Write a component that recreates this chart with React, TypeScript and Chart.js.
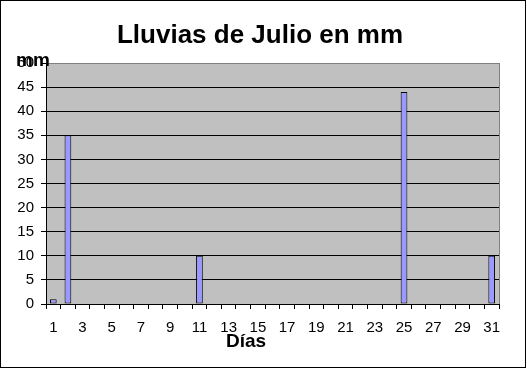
import React, { useEffect, useRef } from 'react';
import { Chart, registerables } from 'chart.js';

Chart.register(...registerables);

const TITLE = 'Lluvias de Julio en mm';
const Y_TITLE = 'mm';
const X_TITLE = 'Días';

const days = [
  '1', '2', '3', '4', '5', '6', '7', '8', '9', '10',
  '11', '12', '13', '14', '15', '16', '17', '18', '19', '20',
  '21', '22', '23', '24', '25', '26', '27', '28', '29', '30', '31',
];

const rainfall = [
  1, 35, 0, 0, 0, 0, 0, 0, 0, 0,
  10, 0, 0, 0, 0, 0, 0, 0, 0, 0,
  0, 0, 0, 0, 44, 0, 0, 0, 0, 0, 10,
];

const Y_MIN = 0;
const Y_MAX = 50;
const Y_STEP = 5;

const FONT = '"Liberation Sans", Arial, sans-serif';

const decorPlugin = {
  id: 'decor',
  beforeDraw(chart: any) {
    const { ctx, chartArea, width, height } = chart;
    ctx.save();
    ctx.fillStyle = '#ffffff';
    ctx.fillRect(0, 0, width, height);
    ctx.fillStyle = '#C0C0C0';
    ctx.fillRect(chartArea.left, chartArea.top, chartArea.right - chartArea.left, chartArea.bottom - chartArea.top);
    ctx.restore();
  },
  afterDraw(chart: any) {
    const { ctx, chartArea } = chart;
    ctx.save();
    ctx.strokeStyle = '#808080';
    ctx.lineWidth = 1;
    ctx.beginPath();
    ctx.moveTo(Math.round(chartArea.right) + 0.5, chartArea.top);
    ctx.lineTo(Math.round(chartArea.right) + 0.5, chartArea.bottom);
    ctx.stroke();
    ctx.strokeStyle = '#000000';
    ctx.strokeRect(0.5, 0.5, 525, 367);
    ctx.fillStyle = '#000000';
    ctx.textAlign = 'center';
    ctx.textBaseline = 'middle';
    ctx.font = `bold 26px ${FONT}`;
    ctx.fillText(TITLE, 260, 36);
    ctx.font = `bold 19px ${FONT}`;
    ctx.fillText(Y_TITLE, 33, 61);
    ctx.fillText(X_TITLE, 246, 342);
    ctx.restore();
  },
};

export default function App() {
  const ref = useRef<HTMLCanvasElement | null>(null);

  useEffect(() => {
    if (!ref.current) return;
    const chart = new Chart(ref.current, {
      type: 'bar',
      data: {
        labels: days,
        datasets: [
          {
            data: rainfall,
            backgroundColor: '#9999FF',
            borderColor: '#000000',
            borderWidth: 1,
            borderSkipped: false,
            barPercentage: 0.46,
            categoryPercentage: 1,
          },
        ],
      },
      options: {
        responsive: false,
        animation: false,
        devicePixelRatio: 1,
        layout: { padding: { left: 0, top: 63, right: 28, bottom: 0 } },
        plugins: {
          legend: { display: false },
          title: { display: false },
          tooltip: { enabled: false },
        },
        scales: {
          x: {
            offset: true,
            grid: {
              offset: true,
              drawOnChartArea: false,
              drawTicks: true,
              tickLength: 5,
              tickColor: '#000000',
            },
            border: { color: '#000000', width: 1 },
            ticks: {
              autoSkip: false,
              maxRotation: 0,
              minRotation: 0,
              padding: 10,
              color: '#000000',
              font: { family: FONT, size: 15 },
              callback: (_v: any, i: number) => (i % 2 === 0 ? days[i] : ''),
            },
            afterFit: (s: any) => {
              s.height = 65;
            },
          },
          y: {
            min: Y_MIN,
            max: Y_MAX,
            grid: {
              color: (c: any) => (c.tick && c.tick.value === Y_MAX ? '#808080' : '#000000'),
              tickColor: '#000000',
              tickLength: 5,
              lineWidth: 1,
            },
            border: { color: '#000000', width: 1 },
            ticks: {
              stepSize: Y_STEP,
              padding: 7,
              color: '#000000',
              font: { family: FONT, size: 15 },
            },
            afterFit: (s: any) => {
              s.width = 46;
            },
          },
        },
      },
      plugins: [decorPlugin],
    });
    return () => chart.destroy();
  }, []);

  return (
    <div style={{ position: 'fixed', left: 0, top: 0, width: 527, height: 369 }}>
      <canvas ref={ref} width={527} height={369} style={{ display: 'block' }} />
    </div>
  );
}
